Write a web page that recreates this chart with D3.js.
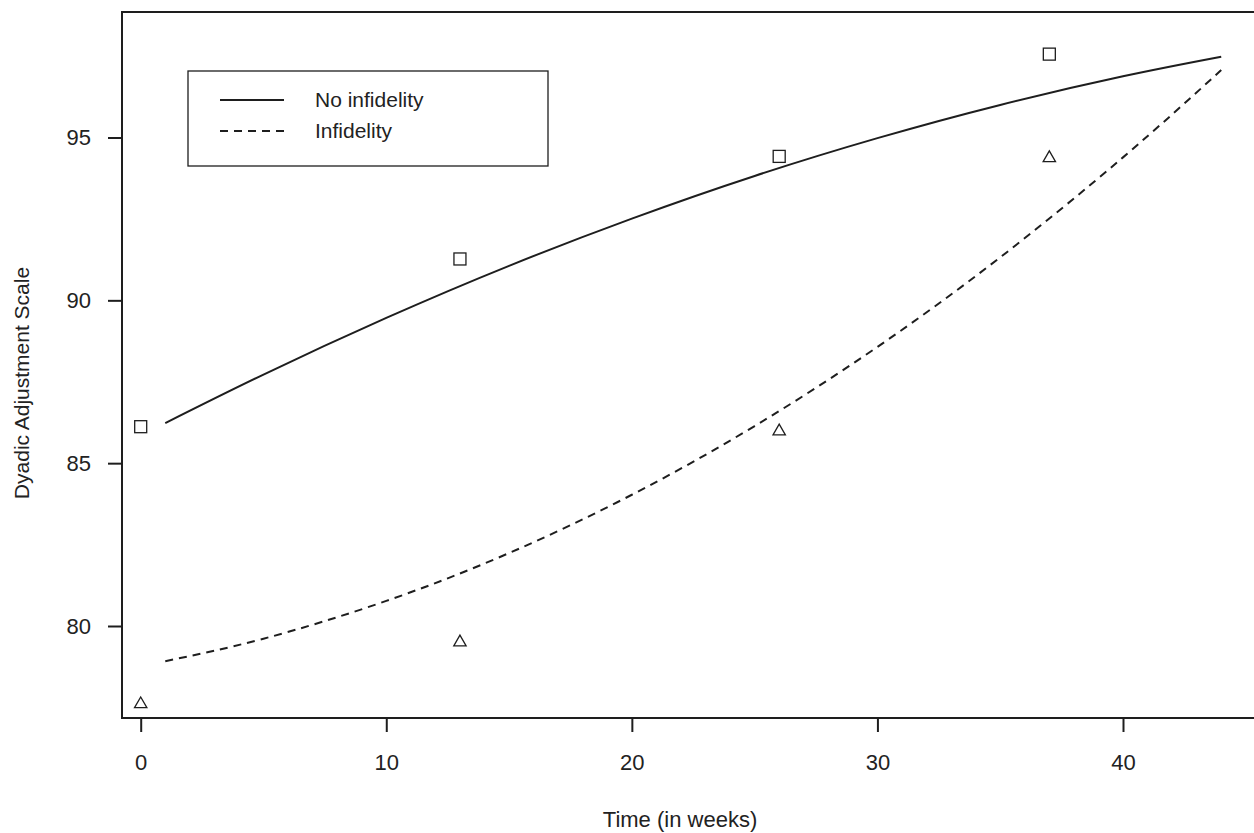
<!DOCTYPE html>
<html>
<head>
<meta charset="utf-8">
<script src="https://cdn.jsdelivr.net/npm/d3@7"></script>
<style>
  html, body { margin: 0; padding: 0; background: #fff; }
  svg { display: block; }
  text { font-family: "Liberation Sans", Arial, Helvetica, sans-serif; fill: #222; }
</style>
</head>
<body>
<svg id="chart" width="1254" height="833"></svg>
<script>
// ---- data ----
const obsWeeks = [0, 13, 26, 37];
const obsNoInfidelity = [86.12, 91.27, 94.42, 97.56];
const obsInfidelity = [77.6, 79.5, 85.98, 94.37];

const fitWeeks = [1, 5, 10, 15, 20, 25, 30, 35, 40, 44];
const fitNoInfidelity = [86.23, 87.72, 89.46, 91.06, 92.51, 93.82, 94.98, 96.0, 96.88, 97.48];
const fitInfidelity = [78.92, 79.61, 80.77, 82.24, 84.03, 86.14, 88.57, 91.32, 94.39, 97.07];

const xTicks = [0, 10, 20, 30, 40];
const yTicks = [80, 85, 90, 95];
const seriesNames = ["No infidelity", "Infidelity"];
const xTitle = "Time (in weeks)";
const yTitle = "Dyadic Adjustment Scale";

// ---- layout ----
const svg = d3.select("#chart");
const frame = { left: 122, top: 12, right: 1256, bottom: 718 };
const x = d3.scaleLinear().domain([0, 40]).range([140.7, 1123]);
const y = d3.scaleLinear().domain([80, 95]).range([626, 137.5]);
const ink = "#1e1e1e";
const tickFont = 22;

// frame
svg.append("rect")
  .attr("x", frame.left).attr("y", frame.top)
  .attr("width", frame.right - frame.left).attr("height", frame.bottom - frame.top)
  .attr("fill", "none").attr("stroke", ink).attr("stroke-width", 2);

// x axis
const xAxis = svg.append("g")
  .attr("transform", `translate(0,${frame.bottom})`)
  .call(d3.axisBottom(x).tickValues(xTicks).tickSize(14).tickPadding(22).tickFormat(d3.format("d")));
xAxis.select(".domain").remove();
xAxis.selectAll("line").attr("stroke", ink).attr("stroke-width", 2);
xAxis.selectAll("text").attr("font-size", tickFont).attr("fill", ink)
  .attr("font-family", "Liberation Sans, Arial, sans-serif");

// y axis
const yAxis = svg.append("g")
  .attr("transform", `translate(${frame.left},0)`)
  .call(d3.axisLeft(y).tickValues(yTicks).tickSize(14).tickPadding(17).tickFormat(d3.format("d")));
yAxis.select(".domain").remove();
yAxis.selectAll("line").attr("stroke", ink).attr("stroke-width", 2);
yAxis.selectAll("text").attr("font-size", tickFont).attr("fill", ink)
  .attr("font-family", "Liberation Sans, Arial, sans-serif");

// axis titles
svg.append("text")
  .attr("x", 680).attr("y", 827)
  .attr("text-anchor", "middle").attr("font-size", 22)
  .text(xTitle);
svg.append("text")
  .attr("transform", `translate(29,383) rotate(-90)`)
  .attr("text-anchor", "middle").attr("font-size", 21)
  .text(yTitle);

// fitted curves
const line = d3.line()
  .x((d, i) => x(fitWeeks[i]))
  .y(d => y(d))
  .curve(d3.curveNatural);

svg.append("path").datum(fitNoInfidelity)
  .attr("d", line).attr("fill", "none")
  .attr("stroke", ink).attr("stroke-width", 2);
svg.append("path").datum(fitInfidelity)
  .attr("d", line).attr("fill", "none")
  .attr("stroke", ink).attr("stroke-width", 2)
  .attr("stroke-dasharray", "8,6");

// observed points
const sq = 12;
svg.selectAll("rect.obs").data(obsNoInfidelity).enter().append("rect")
  .attr("class", "obs")
  .attr("x", (d, i) => x(obsWeeks[i]) - sq / 2)
  .attr("y", d => y(d) - sq / 2)
  .attr("width", sq).attr("height", sq)
  .attr("fill", "none").attr("stroke", ink).attr("stroke-width", 1.3);

const tri = d3.symbol().type(d3.symbolTriangle).size(66);
svg.selectAll("path.obs").data(obsInfidelity).enter().append("path")
  .attr("class", "obs")
  .attr("d", tri)
  .attr("transform", (d, i) => `translate(${x(obsWeeks[i])},${y(d)})`)
  .attr("fill", "none").attr("stroke", ink).attr("stroke-width", 1.3);

// legend
const lg = svg.append("g");
lg.append("rect")
  .attr("x", 188).attr("y", 71).attr("width", 360).attr("height", 95)
  .attr("fill", "#fff").attr("stroke", ink).attr("stroke-width", 1.3);
const legendRows = [
  { name: seriesNames[0], dash: null, yy: 100 },
  { name: seriesNames[1], dash: "8,6", yy: 131 }
];
legendRows.forEach(r => {
  lg.append("line")
    .attr("x1", 220).attr("x2", 284).attr("y1", r.yy).attr("y2", r.yy)
    .attr("stroke", ink).attr("stroke-width", 2)
    .attr("stroke-dasharray", r.dash);
  lg.append("text")
    .attr("x", 315).attr("y", r.yy + 7)
    .attr("font-size", 21)
    .text(r.name);
});
</script>
</body>
</html>
